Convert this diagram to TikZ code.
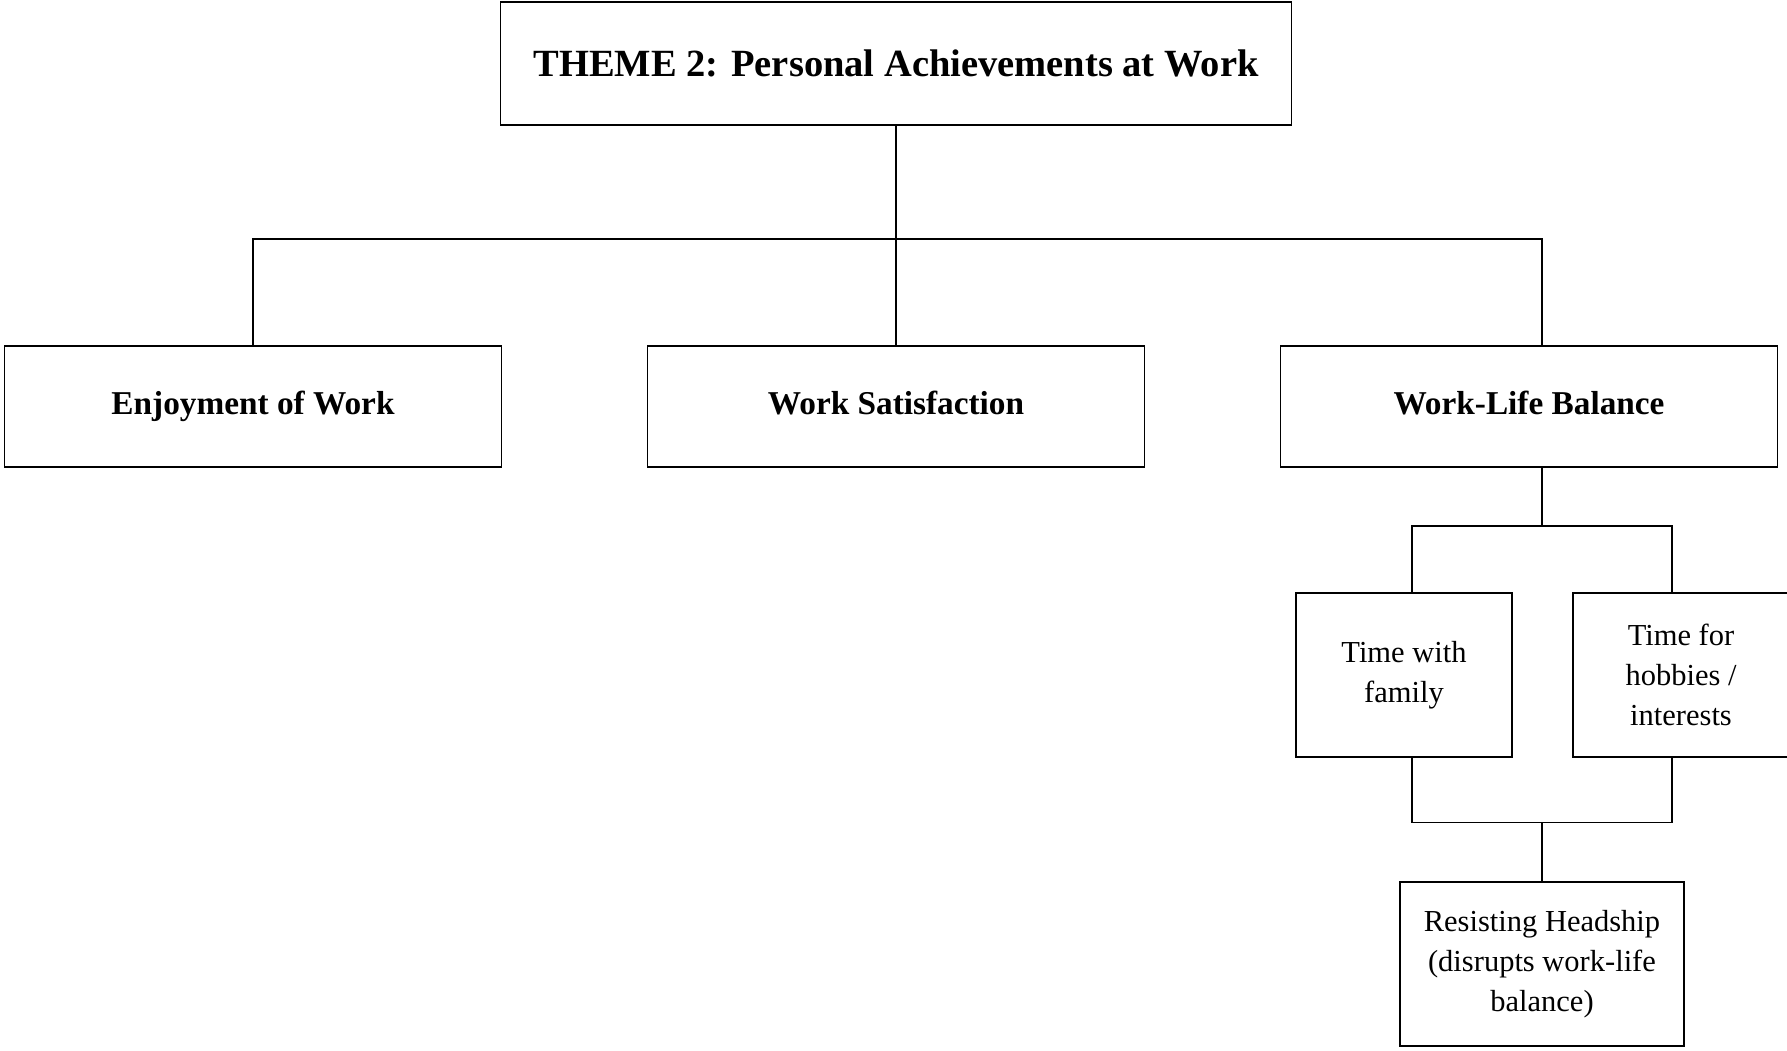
\documentclass[tikz,border=0pt]{standalone}
\usepackage{fontspec}
\setmainfont{Liberation Serif}
\usepackage{tikz}
\usetikzlibrary{positioning}

\begin{document}
\begin{tikzpicture}[
    x=1pt, y=-1pt,
    box/.style={
        draw, line width=1.5pt, inner sep=0pt, align=center
    },
    themebox/.style={box, minimum width=791pt, minimum height=123pt,
        font=\fontsize{38.5}{46}\selectfont\bfseries},
    subtheme/.style={box, minimum width=497pt, minimum height=121pt,
        text height=23pt, text depth=7pt,
        font=\fontsize{33.3}{40}\selectfont\bfseries},
    leaf/.style={box, minimum height=164pt,
        font=\fontsize{30.5}{40}\selectfont},
    link/.style={line width=1.5pt}
]
\useasboundingbox (0,0) rectangle (1787,1050);
\clip (0,0) rectangle (1787,1050);

% --- Top: theme ---
\node[themebox] (theme) at (896,63.5) {THEME 2: Personal Achievements at Work};

% --- Middle row: sub-themes ---
\node[subtheme] (enjoy) at (253,406.5) {Enjoyment of Work};
\node[subtheme] (satis) at (896,406.5) {Work Satisfaction};
\node[subtheme] (wlb) at (1529,406.5) {Work-Life Balance};

% --- Lower rows: work-life balance ---
\node[leaf, minimum width=216pt] (family) at (1404,675) {Time with\\family};
\node[leaf, minimum width=216pt] (hobbies) at (1681,675) {Time for\\hobbies /\\interests};
\node[leaf, minimum width=284pt] (resist) at (1542,964) {Resisting Headship\\(disrupts work-life\\balance)};

% --- Connectors ---
\coordinate (bus) at (896,239);
\coordinate (wlbtop) at ([xshift=13pt]wlb.north);
\coordinate (wlbbot) at ([xshift=13pt]wlb.south);
\coordinate (famtop) at ([xshift=8pt]family.north);
\coordinate (fambot) at ([xshift=8pt]family.south);
\coordinate (hobtop) at ([xshift=-9pt]hobbies.north);
\coordinate (hobbot) at ([xshift=-9pt]hobbies.south);
\coordinate (lowbus) at ([yshift=59pt]resist.north);

\draw[link] (theme.south) -- (satis.north);
\draw[link] (enjoy.north) |- (bus) -| (wlbtop);
\draw[link] (wlbbot) -- ++(0,58) coordinate (subbus);
\draw[link] (famtop) |- (subbus) -| (hobtop);
\draw[link] (fambot) |- (lowbus) -| (hobbot);
\draw[link] (lowbus) -- (resist.north);

\end{tikzpicture}
\end{document}
